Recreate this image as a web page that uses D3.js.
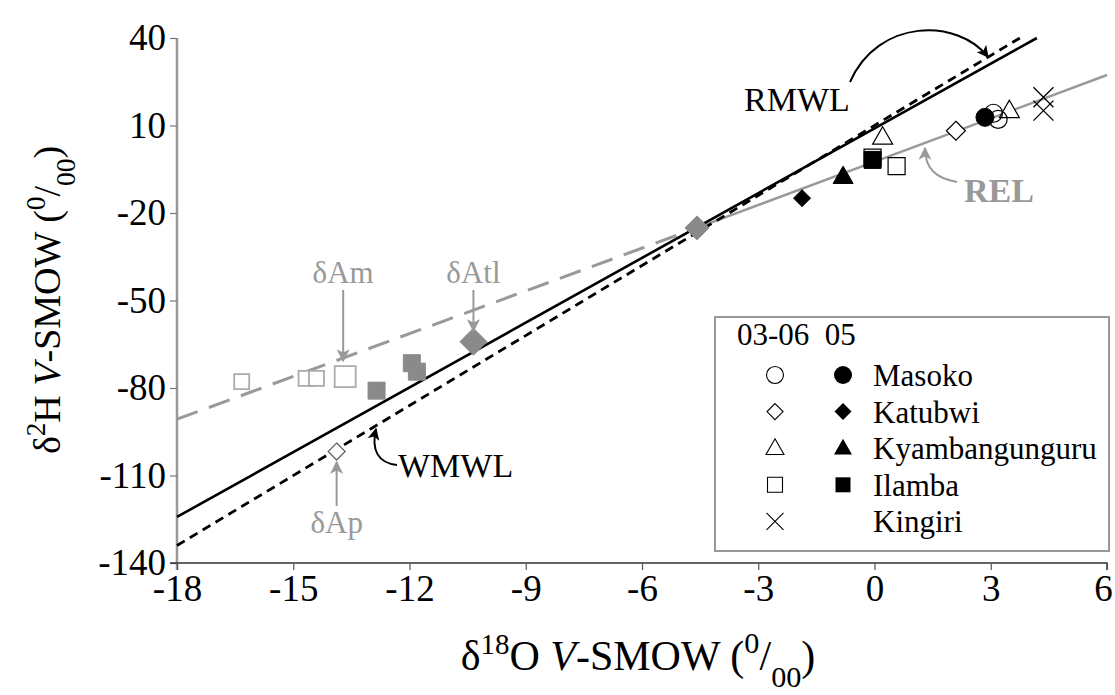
<!DOCTYPE html>
<html>
<head>
<meta charset="utf-8">
<script src="https://cdn.jsdelivr.net/npm/d3@7"></script>
<style>
  html, body { margin: 0; padding: 0; background: #fff; }
  svg { display: block; font-family: "Liberation Serif", "Times New Roman", serif; }
</style>
</head>
<body>
<svg id="chart" width="1115" height="695"></svg>
<script>
// ---------------- data ----------------
const xTicks = [-18, -15, -12, -9, -6, -3, 0, 3, 6];
const yTicks = [40, 10, -20, -50, -80, -110, -140];

// lake samples, 03-06 (open) and 05 (filled)
const masoko0306 = [[3.07, 14.2], [3.19, 12.1]];
const masoko05 = [[2.85, 12.8]];
const katubwi0306 = [[2.1, 8.2]];
const katubwi05 = [[-1.87, -14.9]];
const kyamb0306 = [[0.21, 6.0], [3.48, 15.1]];
const kyamb05 = [[-0.81, -7.5]];
const ilamba0306 = [[0.57, -3.9], [-0.05, -1.0]];
const ilamba05 = [[-0.05, -1.8]];
const kingiri = [[4.36, 19.7], [4.36, 15.1]];

// end-members / reference samples (grey)
const greyOpenSmall = [[-16.33, -77.8], [-14.67, -76.7], [-14.4, -76.7]];
const deltaAm = [[-13.66, -76.1]];
const greyFilledSq = [[-12.85, -80.9], [-11.94, -71.5], [-11.81, -74.4]];
const deltaAtl = [[-10.35, -64.1]];
const mixPoint = [[-4.58, -25.1]];
const deltaAp = [[-13.88, -101.8]];

// lines
const rmwlLine = [[-18, -124.2], [4.19, 40]];
const wmwlLine = [[-18, -134], [3.75, 40]];
const evapDashed = [[-18, -90.7], [-4.58, -25.1]];
const relLine = [[-4.58, -25.1], [6, 27.3]];

const legendRows = ["Masoko", "Katubwi", "Kyambangunguru", "Ilamba", "Kingiri"];

// ---------------- setup ----------------
const svg = d3.select("#chart");
const x = d3.scaleLinear().domain([-18, 6]).range([177, 1107]);
const y = d3.scaleLinear().domain([-140, 40]).range([563, 38]);
const GREY = "#999";
const GREYF = "#8a8a8a";
const FONT = "Liberation Serif, Times New Roman, serif";

const defs = svg.append("defs");
function mk(id, color, w) {
  defs.append("marker").attr("id", id)
    .attr("viewBox", "0 0 10 10").attr("refX", 9).attr("refY", 5)
    .attr("markerWidth", w).attr("markerHeight", w)
    .attr("markerUnits", "strokeWidth")
    .attr("orient", "auto-start-reverse")
    .append("path").attr("d", "M0,0 L10,5 L0,10 L2.5,5 Z").attr("fill", color);
}
mk("arrB", "#000", 6);
mk("arrG", GREY, 6.5);

function shape(type, s) {
  const h = s / 2;
  switch (type) {
    case "circle": return d3.symbol().type(d3.symbolCircle).size(Math.PI * h * h)();
    case "square": return `M${-h},${-h}H${h}V${h}H${-h}Z`;
    case "diamond": return `M0,${-h}L${h},0L0,${h}L${-h},0Z`;
    case "triangle": { const t = s * 0.87; return `M0,${-t * 0.6}L${h},${t * 0.4}L${-h},${t * 0.4}Z`; }
    case "x": return `M${-h},${-h}L${h},${h}M${h},${-h}L${-h},${h}`;
  }
}

// ---------------- axes ----------------
const fontTick = 37;
const fmt = d => String(d);
const yAxis = svg.append("g").attr("transform", `translate(${x(-18)},0)`)
  .call(d3.axisLeft(y).tickValues(yTicks).tickSize(7).tickPadding(4).tickFormat(fmt));
yAxis.select(".domain").attr("stroke", GREY).attr("stroke-width", 2.5)
  .attr("d", `M0,${y(40)}V${y(-140) + 7}`);
yAxis.selectAll(".tick line").attr("stroke", "#777").attr("stroke-width", 1.2);
yAxis.selectAll(".tick text").attr("font-size", fontTick).attr("fill", "#000")
  .attr("font-family", FONT);

const xAxis = svg.append("g").attr("transform", `translate(0,${y(-140)})`)
  .call(d3.axisBottom(x).tickValues(xTicks).tickSize(7).tickPadding(5).tickFormat(fmt));
xAxis.select(".domain").attr("stroke", "#333").attr("stroke-width", 1.5)
  .attr("d", `M${x(-18) - 7},0H${x(6)}V7`);
xAxis.selectAll(".tick line").attr("stroke", "#555").attr("stroke-width", 1.2);
xAxis.selectAll(".tick text").attr("font-size", fontTick).attr("fill", "#000")
  .attr("font-family", FONT)
  .attr("dx", d => d === 6 ? -4 : 0);

// axis titles
function permil(t, size) {
  t.append("tspan").text("(");
  t.append("tspan").attr("baseline-shift", "super").attr("font-size", size * 0.72).text("0");
  t.append("tspan").text("/");
  t.append("tspan").attr("baseline-shift", "sub").attr("font-size", size * 0.72).text("00");
  t.append("tspan").text(")");
}
const xt = svg.append("text").attr("x", 638).attr("y", 670).attr("text-anchor", "middle").attr("font-size", 42);
xt.append("tspan").text("δ");
xt.append("tspan").attr("baseline-shift", "super").attr("font-size", 29).text("18");
xt.append("tspan").text("O ");
xt.append("tspan").attr("font-style", "italic").text("V");
xt.append("tspan").text("-SMOW ");
permil(xt, 42);

const yt = svg.append("text").attr("transform", "translate(60,300) rotate(-90)")
  .attr("text-anchor", "middle").attr("font-size", 38);
yt.append("tspan").text("δ");
yt.append("tspan").attr("baseline-shift", "super").attr("font-size", 27).text("2");
yt.append("tspan").text("H ");
yt.append("tspan").attr("font-style", "italic").text("V");
yt.append("tspan").text("-SMOW ");
permil(yt, 38);

// ---------------- lines ----------------
const line = d3.line().x(d => x(d[0])).y(d => y(d[1]));
svg.append("path").datum(evapDashed).attr("d", line).attr("fill", "none")
  .attr("stroke", GREY).attr("stroke-width", 3).attr("stroke-dasharray", "22,12");
svg.append("path").datum(relLine).attr("d", line).attr("fill", "none")
  .attr("stroke", GREY).attr("stroke-width", 2.5);
svg.append("path").datum(rmwlLine).attr("d", line).attr("fill", "none")
  .attr("stroke", "#000").attr("stroke-width", 2.6);
svg.append("path").datum(wmwlLine).attr("d", line).attr("fill", "none")
  .attr("stroke", "#000").attr("stroke-width", 2.8).attr("stroke-dasharray", "9,6");

// ---------------- points ----------------
function pts(data, type, size, fill, stroke, sw) {
  svg.append("g").selectAll("path").data(data).join("path")
    .attr("transform", d => `translate(${x(d[0])},${y(d[1])})`)
    .attr("d", shape(type, size))
    .attr("fill", fill).attr("stroke", stroke).attr("stroke-width", sw);
}
pts(greyOpenSmall, "square", 15, "#fff", "#aaa", 1.8);
pts(deltaAm, "square", 21, "#fff", "#aaa", 1.8);
pts(greyFilledSq, "square", 17, GREYF, GREYF, 1);
pts(deltaAtl, "diamond", 27, GREYF, GREYF, 1);
pts(mixPoint, "diamond", 24, GREYF, GREYF, 1);
pts(deltaAp, "diamond", 17, "#fff", "#666", 1.3);

pts(ilamba0306, "square", 17, "#fff", "#000", 1.2);
pts(ilamba05, "square", 17, "#000", "#000", 1);
pts(katubwi0306, "diamond", 19, "#fff", "#000", 1.2);
pts(katubwi05, "diamond", 17, "#000", "#000", 1);
pts(kyamb0306, "triangle", 20, "#fff", "#000", 1.2);
pts(kyamb05, "triangle", 20, "#000", "#000", 1);
pts(masoko0306, "circle", 18, "none", "#000", 1.2);
pts(masoko05, "circle", 18, "#000", "#000", 1);
pts(kingiri, "x", 20, "none", "#000", 1.3);

// ---------------- annotations ----------------
const fa = 34;
svg.append("text").attr("x", 797).attr("y", 111).attr("text-anchor", "middle")
  .attr("font-size", fa).text("RMWL");
svg.append("path").attr("d", "M850,82 C878,18 958,18 988,57").attr("fill", "none")
  .attr("stroke", "#000").attr("stroke-width", 2).attr("marker-end", "url(#arrB)");

svg.append("text").attr("x", 398).attr("y", 477).attr("font-size", fa).text("WMWL");
svg.append("path").attr("d", "M397,465 C378,463 371,450 376,429").attr("fill", "none")
  .attr("stroke", "#000").attr("stroke-width", 2).attr("marker-end", "url(#arrB)");

svg.append("text").attr("x", 964).attr("y", 202).attr("font-size", 34)
  .attr("font-weight", "bold").attr("fill", GREY).text("REL");
svg.append("path").attr("d", "M957,182 C935,178 925,168 925,148").attr("fill", "none")
  .attr("stroke", GREY).attr("stroke-width", 2).attr("marker-end", "url(#arrG)");

const fd = 31;
const amX = x(deltaAm[0][0]) - 2;
svg.append("text").attr("x", amX).attr("y", 283).attr("text-anchor", "middle")
  .attr("font-size", fd).attr("fill", GREY).text("δAm");
svg.append("path").attr("d", `M${amX},290V361`).attr("stroke", GREY).attr("stroke-width", 2)
  .attr("marker-end", "url(#arrG)");

const atlX = x(deltaAtl[0][0]);
svg.append("text").attr("x", atlX).attr("y", 283).attr("text-anchor", "middle")
  .attr("font-size", fd).attr("fill", GREY).text("δAtl");
svg.append("path").attr("d", `M${atlX},290V331`).attr("stroke", GREY).attr("stroke-width", 2)
  .attr("marker-end", "url(#arrG)");

const apX = x(deltaAp[0][0]);
svg.append("text").attr("x", apX).attr("y", 533).attr("text-anchor", "middle")
  .attr("font-size", fd).attr("fill", GREY).text("δAp");
svg.append("path").attr("d", `M${apX},506V462`).attr("stroke", GREY).attr("stroke-width", 2)
  .attr("marker-end", "url(#arrG)");

// ---------------- legend ----------------
const lg = svg.append("g");
lg.append("rect").attr("x", 715).attr("y", 317).attr("width", 394).attr("height", 234)
  .attr("fill", "#fff").attr("stroke", "#999").attr("stroke-width", 2);
lg.append("text").attr("x", 737).attr("y", 345).attr("font-size", 31).attr("xml:space", "preserve")
  .text("03-06  05");
const lgOpen = [["circle", 17], ["diamond", 16], ["triangle", 18], ["square", 15], ["x", 17]];
const lgFilled = [["circle", 18], ["diamond", 17], ["triangle", 18], ["square", 15], null];
legendRows.forEach((name, i) => {
  const cy = 375 + i * 36.6;
  const o = lgOpen[i];
  lg.append("path").attr("transform", `translate(775,${cy})`).attr("d", shape(o[0], o[1]))
    .attr("fill", o[0] === "x" ? "none" : "#fff").attr("stroke", "#000").attr("stroke-width", 1.1);
  const f = lgFilled[i];
  if (f) lg.append("path").attr("transform", `translate(843,${cy})`).attr("d", shape(f[0], f[1]))
    .attr("fill", "#000");
  lg.append("text").attr("x", 873).attr("y", cy + 11).attr("font-size", 31).text(name);
});
</script>
</body>
</html>
